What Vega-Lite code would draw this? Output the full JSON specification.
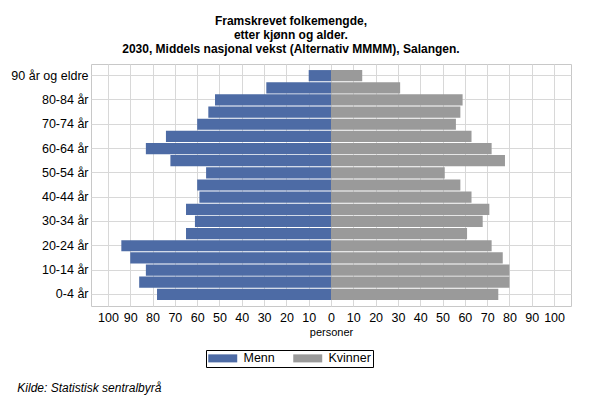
{
  "$schema": "https://vega.github.io/schema/vega-lite/v6.json",
  "background": "white",
  "padding": {"left": 10, "top": 14, "right": 5, "bottom": 5},
  "title": {
    "text": "Kilde: Statistisk sentralbyrå",
    "orient": "bottom",
    "anchor": "start",
    "frame": "bounds",
    "dx": 7,
    "offset": 15,
    "baseline": "top",
    "font": "Liberation Sans",
    "fontSize": 12,
    "fontStyle": "italic",
    "fontWeight": "normal",
    "color": "black"
  },
  "config": {
    "font": "Liberation Sans",
    "view": {"stroke": "#c8c8c8"},
    "axis": {"gridColor": "#d8d8d8", "domain": false, "ticks": false, "labelColor": "black", "labelFont": "Liberation Sans", "labelFontSize": 12}
  },
  "vconcat": [
    {
      "title": {
        "text": ["Framskrevet folkemengde,", "etter kjønn og alder.", "2030, Middels nasjonal vekst (Alternativ MMMM), Salangen."],
        "anchor": "middle",
        "frame": "bounds",
        "font": "Liberation Sans",
        "fontSize": 12,
        "fontWeight": "bold",
        "lineHeight": 14,
        "offset": 8,
        "color": "black"
      },
      "width": 480,
      "height": 242,
      "data": {
        "values": [
          {"alder": "0-4 år", "kjonn": "Menn", "personer": -78},
          {"alder": "5-9 år", "kjonn": "Menn", "personer": -86},
          {"alder": "10-14 år", "kjonn": "Menn", "personer": -83},
          {"alder": "15-19 år", "kjonn": "Menn", "personer": -90},
          {"alder": "20-24 år", "kjonn": "Menn", "personer": -94},
          {"alder": "25-29 år", "kjonn": "Menn", "personer": -65},
          {"alder": "30-34 år", "kjonn": "Menn", "personer": -61},
          {"alder": "35-39 år", "kjonn": "Menn", "personer": -65},
          {"alder": "40-44 år", "kjonn": "Menn", "personer": -59},
          {"alder": "45-49 år", "kjonn": "Menn", "personer": -60},
          {"alder": "50-54 år", "kjonn": "Menn", "personer": -56},
          {"alder": "55-59 år", "kjonn": "Menn", "personer": -72},
          {"alder": "60-64 år", "kjonn": "Menn", "personer": -83},
          {"alder": "65-69 år", "kjonn": "Menn", "personer": -74},
          {"alder": "70-74 år", "kjonn": "Menn", "personer": -60},
          {"alder": "75-79 år", "kjonn": "Menn", "personer": -55},
          {"alder": "80-84 år", "kjonn": "Menn", "personer": -52},
          {"alder": "85-89 år", "kjonn": "Menn", "personer": -29},
          {"alder": "90 år og eldre", "kjonn": "Menn", "personer": -10},
          {"alder": "0-4 år", "kjonn": "Kvinner", "personer": 75},
          {"alder": "5-9 år", "kjonn": "Kvinner", "personer": 80},
          {"alder": "10-14 år", "kjonn": "Kvinner", "personer": 80},
          {"alder": "15-19 år", "kjonn": "Kvinner", "personer": 77},
          {"alder": "20-24 år", "kjonn": "Kvinner", "personer": 72},
          {"alder": "25-29 år", "kjonn": "Kvinner", "personer": 61},
          {"alder": "30-34 år", "kjonn": "Kvinner", "personer": 68},
          {"alder": "35-39 år", "kjonn": "Kvinner", "personer": 71},
          {"alder": "40-44 år", "kjonn": "Kvinner", "personer": 63},
          {"alder": "45-49 år", "kjonn": "Kvinner", "personer": 58},
          {"alder": "50-54 år", "kjonn": "Kvinner", "personer": 51},
          {"alder": "55-59 år", "kjonn": "Kvinner", "personer": 78},
          {"alder": "60-64 år", "kjonn": "Kvinner", "personer": 72},
          {"alder": "65-69 år", "kjonn": "Kvinner", "personer": 63},
          {"alder": "70-74 år", "kjonn": "Kvinner", "personer": 56},
          {"alder": "75-79 år", "kjonn": "Kvinner", "personer": 58},
          {"alder": "80-84 år", "kjonn": "Kvinner", "personer": 59},
          {"alder": "85-89 år", "kjonn": "Kvinner", "personer": 31},
          {"alder": "90 år og eldre", "kjonn": "Kvinner", "personer": 14}
        ]
      },
      "mark": {"type": "bar"},
      "encoding": {
        "y": {
          "field": "alder",
          "type": "nominal",
          "sort": ["90 år og eldre", "85-89 år", "80-84 år", "75-79 år", "70-74 år", "65-69 år", "60-64 år", "55-59 år", "50-54 år", "45-49 år", "40-44 år", "35-39 år", "30-34 år", "25-29 år", "20-24 år", "15-19 år", "10-14 år", "5-9 år", "0-4 år"],
          "scale": {"paddingInner": 0.08, "paddingOuter": 0.5},
          "axis": {
            "title": null,
            "values": ["90 år og eldre", "80-84 år", "70-74 år", "60-64 år", "50-54 år", "40-44 år", "30-34 år", "20-24 år", "10-14 år", "0-4 år"],
            "labelPadding": 3,
            "labelFontSize": 12.5,
            "grid": true
          }
        },
        "x": {
          "field": "personer",
          "type": "quantitative",
          "scale": {"domain": [-107.6, 107.6], "nice": false},
          "axis": {
            "values": [-100, -90, -80, -70, -60, -50, -40, -30, -20, -10, 0, 10, 20, 30, 40, 50, 60, 70, 80, 90, 100],
            "labelExpr": "format(abs(datum.value), 'd')",
            "labelPadding": 5,
            "labelFontSize": 12.5,
            "title": "personer",
            "titleFontSize": 11,
            "titleFontWeight": "normal",
            "titlePadding": 3
          }
        },
        "color": {
          "field": "kjonn",
          "type": "nominal",
          "sort": ["Menn", "Kvinner"],
          "scale": {"domain": ["Menn", "Kvinner"], "range": ["#4d6ba5", "#9a9a9a"]},
          "legend": {
            "title": null,
            "orient": "none",
            "direction": "horizontal",
            "legendX": 115,
            "legendY": 286,
            "strokeColor": "black",
            "padding": 2,
            "symbolType": "M-1,-0.67H3.83V0.67H-1Z",
            "symbolSize": 144,
            "symbolStrokeWidth": 0,
            "symbolOpacity": 1,
            "labelOffset": 23,
            "labelFontSize": 12.5,
            "labelColor": "black",
            "columnPadding": 18
          }
        }
      }
    }
  ]
}
